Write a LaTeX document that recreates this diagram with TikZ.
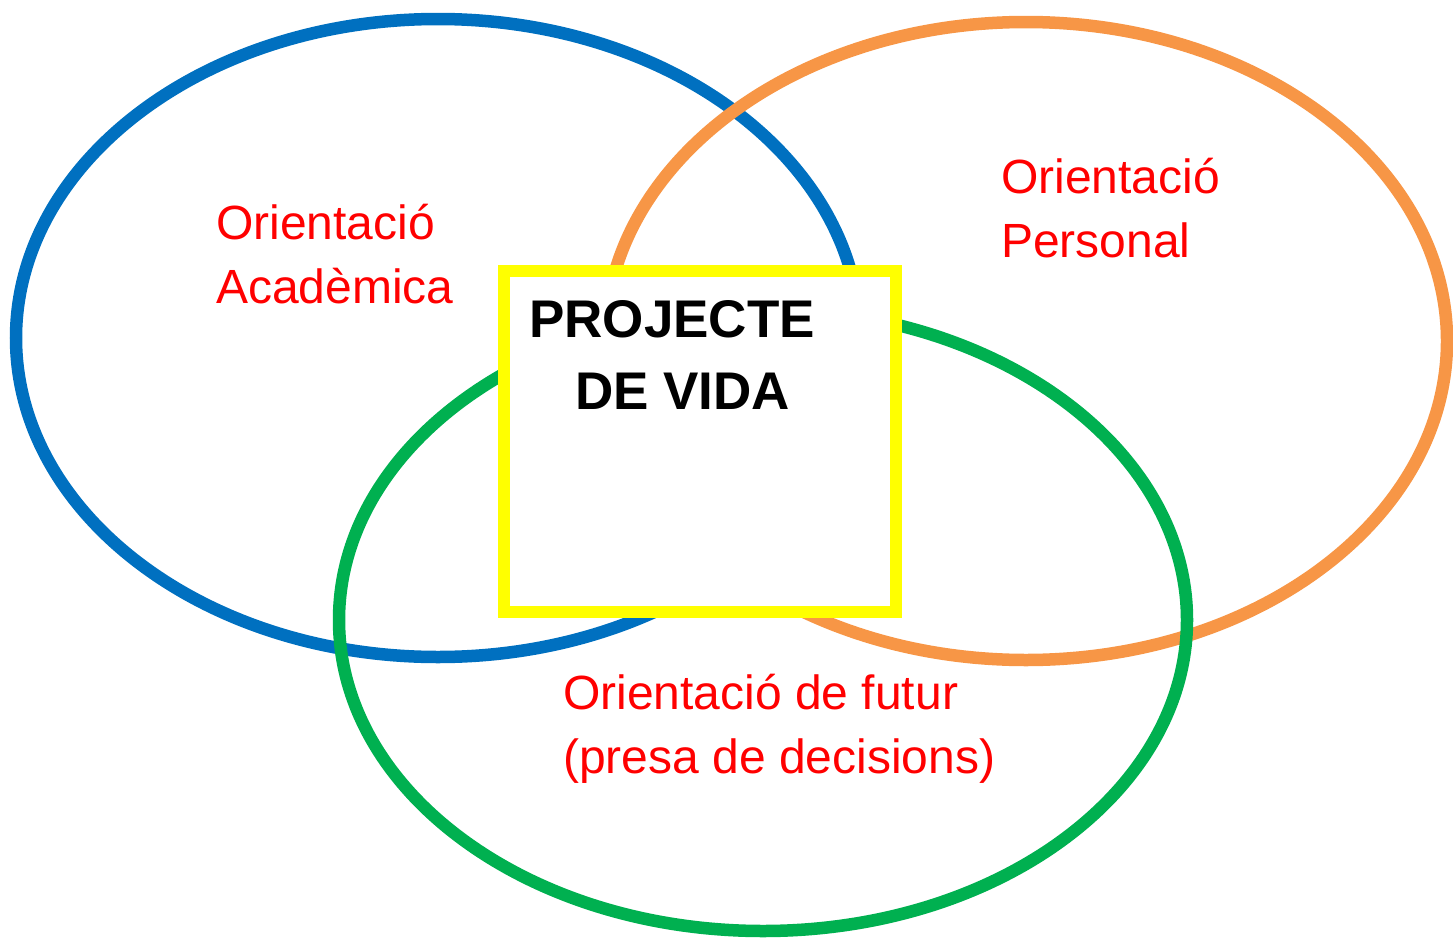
\documentclass[tikz,border=0pt]{standalone}
\usepackage{fontspec}
\setmainfont{Liberation Sans}
\usetikzlibrary{shapes.geometric}
\definecolor{cblue}{HTML}{0070C0}
\definecolor{corange}{HTML}{F79646}
\definecolor{cgreen}{HTML}{00B050}
\definecolor{cyellow}{HTML}{FFFF00}
\definecolor{cred}{HTML}{FF0000}
\tikzset{
  ring/.style={ellipse, draw=#1, line width=12.5pt, inner sep=0pt, outer sep=0pt},
  label text/.style={text=cred, font=\fontsize{48}{64}\selectfont, align=left, inner sep=0pt, anchor=base west},
  projbox/.style={rectangle, draw=cyellow, fill=white, line width=12pt, inner sep=0pt},
  projtext/.style={text=black, font=\fontsize{53}{72}\selectfont\bfseries, align=left, inner sep=0pt, anchor=base west}
}
\begin{document}
\begin{tikzpicture}[x=1pt,y=-1pt]
\useasboundingbox (0,0) rectangle (1453,945);
\node[ring=cblue, minimum width=844pt, minimum height=638pt] (acad) at (438,338) {};
\node[ring=corange, minimum width=842pt, minimum height=638pt] (pers) at (1026,341) {};
\node[ring=cgreen, minimum width=848pt, minimum height=622pt] (futur) at (763,620) {};
\node[projbox, minimum width=392pt, minimum height=341pt] (proj) at (700,441.5) {};
\node[label text] (lacad) at (216,303) {Orientació\\Acadèmica};
\node[label text] (lpers) at (1001,257) {Orientació\\Personal};
\node[label text] (lfutur) at (563,773) {Orientació de futur\\(presa de decisions)};
\node[projtext] (lproj) at (529,409) {PROJECTE\\\hspace*{46pt}DE VIDA};
\end{tikzpicture}
\end{document}
